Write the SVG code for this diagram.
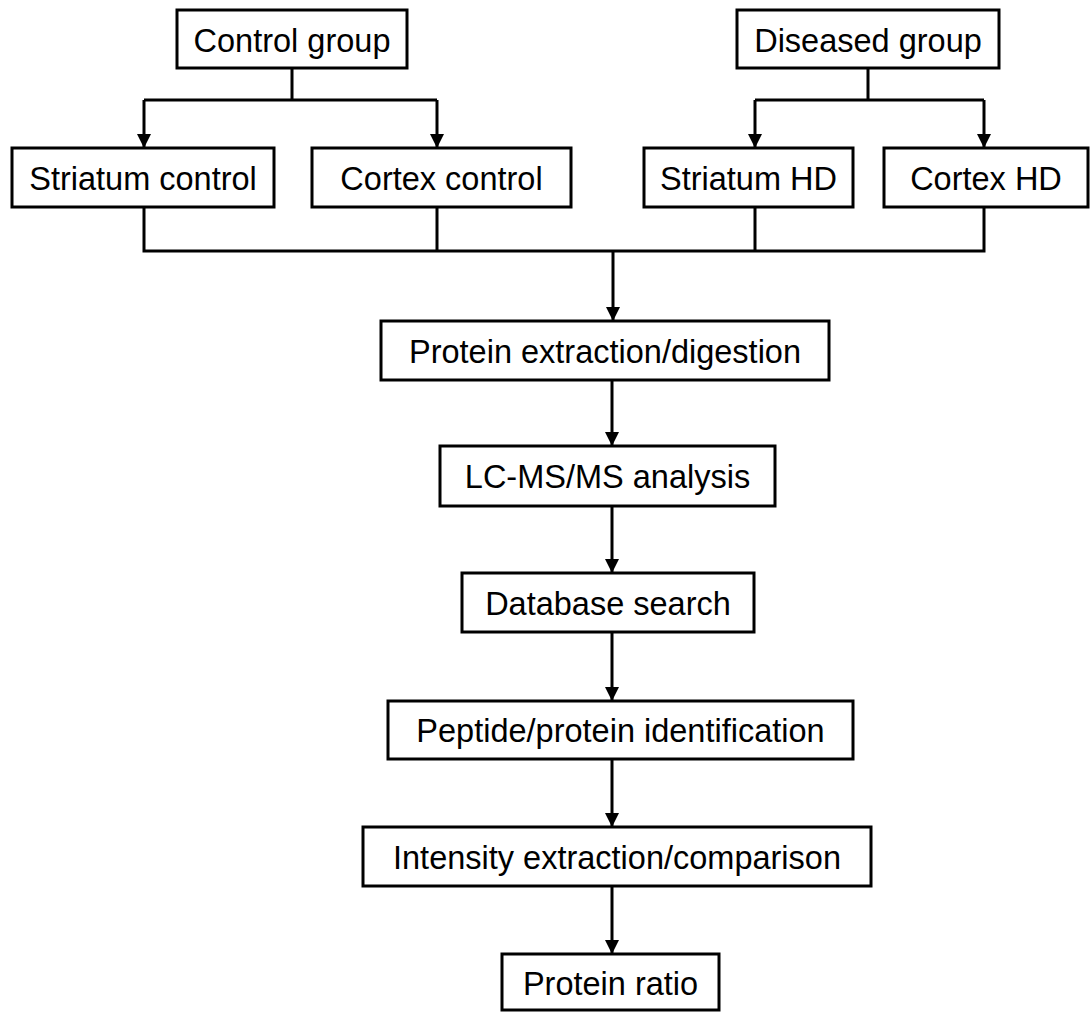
<svg xmlns="http://www.w3.org/2000/svg" width="1090" height="1012" viewBox="0 0 1090 1012">
<style>
.box{fill:#fff;stroke:#000;stroke-width:3}
.t{font-family:"Liberation Sans",Arial,sans-serif;font-size:32.5px;fill:#000;text-anchor:middle}
.c{fill:none;stroke:#000;stroke-width:3}
</style>
<defs>
<marker id="ah" markerUnits="userSpaceOnUse" markerWidth="14" markerHeight="14" viewBox="0 0 14 14" refX="7" refY="14" orient="auto-start-reverse">
<path d="M0,0 L14,0 L7,14 Z" fill="#000" transform="rotate(0)"/>
</marker>
<marker id="ad" markerUnits="userSpaceOnUse" markerWidth="14" markerHeight="14" viewBox="0 0 14 14" refX="13" refY="7" orient="auto">
<path d="M0,0 L14,7 L0,14 Z" fill="#000"/>
</marker>
</defs>
<rect width="1090" height="1012" fill="#fff"/>
<g id="connectors">
<path class="c" d="M292,68 V100 M144,100 H437 M868,68 V100 M755,100 H984"/>
<path class="c" d="M144,100 V147" marker-end="url(#ad)"/>
<path class="c" d="M437,100 V147" marker-end="url(#ad)"/>
<path class="c" d="M755,100 V147" marker-end="url(#ad)"/>
<path class="c" d="M984,100 V147" marker-end="url(#ad)"/>
<path class="c" d="M144,207 V251 M437,207 V251 M755,207 V251 M984,207 V251 M142.5,251 H985.5"/>
<path class="c" d="M613,251 V320" marker-end="url(#ad)"/>
<path class="c" d="M612,380 V445" marker-end="url(#ad)"/>
<path class="c" d="M612,506 V572" marker-end="url(#ad)"/>
<path class="c" d="M612,632 V700" marker-end="url(#ad)"/>
<path class="c" d="M612,759 V826" marker-end="url(#ad)"/>
<path class="c" d="M612,886 V953" marker-end="url(#ad)"/>
</g>
<g id="control-group"><rect class="box" x="177" y="10" width="230" height="58"/><text class="t" x="292" y="52">Control group</text></g>
<g id="diseased-group"><rect class="box" x="737" y="10" width="262" height="58"/><text class="t" x="868" y="52">Diseased group</text></g>
<g id="striatum-control"><rect class="box" x="12" y="148" width="262" height="59"/><text class="t" x="143" y="190">Striatum control</text></g>
<g id="cortex-control"><rect class="box" x="312" y="148" width="259" height="59"/><text class="t" x="441.5" y="190">Cortex control</text></g>
<g id="striatum-hd"><rect class="box" x="644" y="148" width="209" height="59"/><text class="t" x="748.5" y="190">Striatum HD</text></g>
<g id="cortex-hd"><rect class="box" x="884" y="148" width="204" height="59"/><text class="t" x="986" y="190">Cortex HD</text></g>
<g id="protein-extraction"><rect class="box" x="381" y="321" width="448" height="59"/><text class="t" x="605" y="363">Protein extraction/digestion</text></g>
<g id="lcms"><rect class="box" x="440" y="446" width="335" height="60"/><text class="t" x="607.5" y="488">LC-MS/MS analysis</text></g>
<g id="database-search"><rect class="box" x="462" y="573" width="292" height="59"/><text class="t" x="608" y="615">Database search</text></g>
<g id="peptide-identification"><rect class="box" x="388" y="701" width="465" height="58"/><text class="t" x="620.5" y="742">Peptide/protein identification</text></g>
<g id="intensity-extraction"><rect class="box" x="363" y="827" width="508" height="59"/><text class="t" x="617" y="869">Intensity extraction/comparison</text></g>
<g id="protein-ratio"><rect class="box" x="502" y="954" width="217" height="56"/><text class="t" x="610.5" y="995">Protein ratio</text></g>
</svg>
